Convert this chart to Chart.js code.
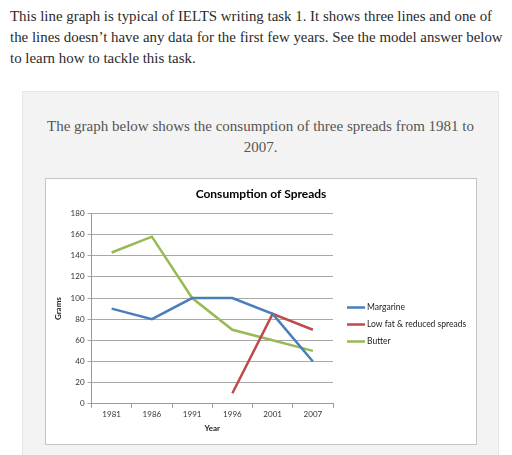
<!DOCTYPE html>
<html lang="en">
<head>
    <meta charset="UTF-8">
    <title>Consumption of Spreads</title>
    <script src="https://cdn.jsdelivr.net/npm/chart.js"></script>
    <style>
        body {
            margin: 0;
            padding: 0;
            background: #fff;
            width: 512px;
            height: 455px;
            overflow: hidden;
            position: relative;
        }
        .intro {
            position: absolute;
            left: 10px;
            top: 6px;
            margin: 0;
            font-family: "Liberation Serif", serif;
            font-size: 14.9px;
            line-height: 21px;
            color: #2b2b2b;
            white-space: nowrap;
        }
        .panel {
            position: absolute;
            left: 22px;
            top: 91px;
            width: 475px;
            height: 380px;
            background: #f3f3f3;
            border: 1px solid #e6e6e6;
        }
        .caption {
            position: absolute;
            left: 22px;
            top: 116px;
            width: 477px;
            margin: 0;
            text-align: center;
            font-family: "Liberation Serif", serif;
            font-size: 15px;
            line-height: 21px;
            color: #555;
        }
        #chart-box {
            position: absolute;
            left: 45px;
            top: 178px;
            width: 430px;
            height: 265px;
            background: #fff;
            border: 1px solid #c4c4c4;
        }
    </style>
</head>
<body>
    <p class="intro">This line graph is typical of IELTS writing task 1. It shows three lines and one of<br>the lines doesn’t have any data for the first few years. See the model answer below<br>to learn how to tackle this task.</p>
    <div class="panel"></div>
    <p class="caption">The graph below shows the consumption of three spreads from 1981 to<br>2007.</p>
    <div id="chart-box">
        <canvas id="spreadsChart" width="430" height="265"></canvas>
    </div>

    <script>
        // data
        const years = ['1981', '1986', '1991', '1996', '2001', '2007'];
        const margarine = [90, 80, 100, 100, 85, 40];
        const lowFat = [null, null, null, 10, 85, 70];
        const butter = [143, 158, 100, 70, 60, 50];

        const font = 'Lato, "Open Sans", sans-serif';

        const ctx = document.getElementById('spreadsChart').getContext('2d');

        function line(label, data, color) {
            return {
                label: label,
                data: data,
                borderColor: color,
                backgroundColor: color,
                borderWidth: 2.5,
                pointRadius: 0,
                tension: 0,
                spanGaps: false
            };
        }

        // the built-in legend can't get wide enough next to the y axis,
        // so draw an Excel-style one in the empty space on the right
        const sideLegend = {
            id: 'sideLegend',
            afterDraw(chart) {
                const c = chart.ctx;
                const x = chart.chartArea.right + 14;
                let y = chart.height / 2 - 4;
                c.save();
                c.font = '8.5px ' + font;
                c.textBaseline = 'middle';
                chart.data.datasets.forEach(ds => {
                    c.strokeStyle = ds.borderColor;
                    c.lineWidth = 2.5;
                    c.beginPath();
                    c.moveTo(x, y);
                    c.lineTo(x + 18, y);
                    c.stroke();
                    c.fillStyle = '#222';
                    c.fillText(ds.label, x + 20, y);
                    y += 17;
                });
                c.restore();
            }
        };

        new Chart(ctx, {
            type: 'line',
            data: {
                labels: years,
                datasets: [
                    line('Margarine', margarine, '#4a7ebb'),
                    line('Low fat & reduced spreads', lowFat, '#be4b48'),
                    line('Butter', butter, '#98b954')
                ]
            },
            options: {
                responsive: false,
                animation: false,
                devicePixelRatio: 1,
                layout: {
                    padding: { left: 8, right: 8, top: 8, bottom: 11 }
                },
                plugins: {
                    title: {
                        display: true,
                        text: 'Consumption of Spreads',
                        color: '#000',
                        font: { family: font, size: 12, weight: 'bold' },
                        padding: { top: 0, bottom: 12 }
                    },
                    legend: { display: false },
                    tooltip: { enabled: false }
                },
                scales: {
                    x: {
                        offset: true,
                        grid: {
                            offset: true,
                            drawOnChartArea: false,
                            drawTicks: true,
                            tickLength: 4,
                            color: '#9a9a9a'
                        },
                        border: { color: '#9a9a9a' },
                        ticks: {
                            color: '#333',
                            font: { family: font, size: 8 },
                            padding: 2,
                            maxRotation: 0
                        },
                        title: {
                            display: true,
                            text: 'Year',
                            color: '#222',
                            font: { family: font, size: 8, weight: 'bold' },
                            padding: { top: 2, bottom: 0 }
                        }
                    },
                    y: {
                        min: 0,
                        max: 180,
                        grid: {
                            color: '#a8a8a8',
                            tickLength: 4
                        },
                        border: { color: '#9a9a9a' },
                        ticks: {
                            stepSize: 20,
                            color: '#333',
                            font: { family: font, size: 8 },
                            padding: 3
                        },
                        title: {
                            display: true,
                            text: 'Grams',
                            color: '#222',
                            font: { family: font, size: 8, weight: 'bold' },
                            padding: { top: 0, bottom: 4 }
                        }
                    },
                    // empty right-hand axis that only reserves room for the legend
                    legendSpace: {
                        type: 'linear',
                        position: 'right',
                        min: 0,
                        max: 1,
                        grid: { display: false, drawTicks: false },
                        border: { display: false },
                        ticks: { display: false },
                        afterFit(scale) {
                            scale.width = 135;
                        }
                    }
                }
            },
            plugins: [sideLegend]
        });
    </script>
</body>
</html>
